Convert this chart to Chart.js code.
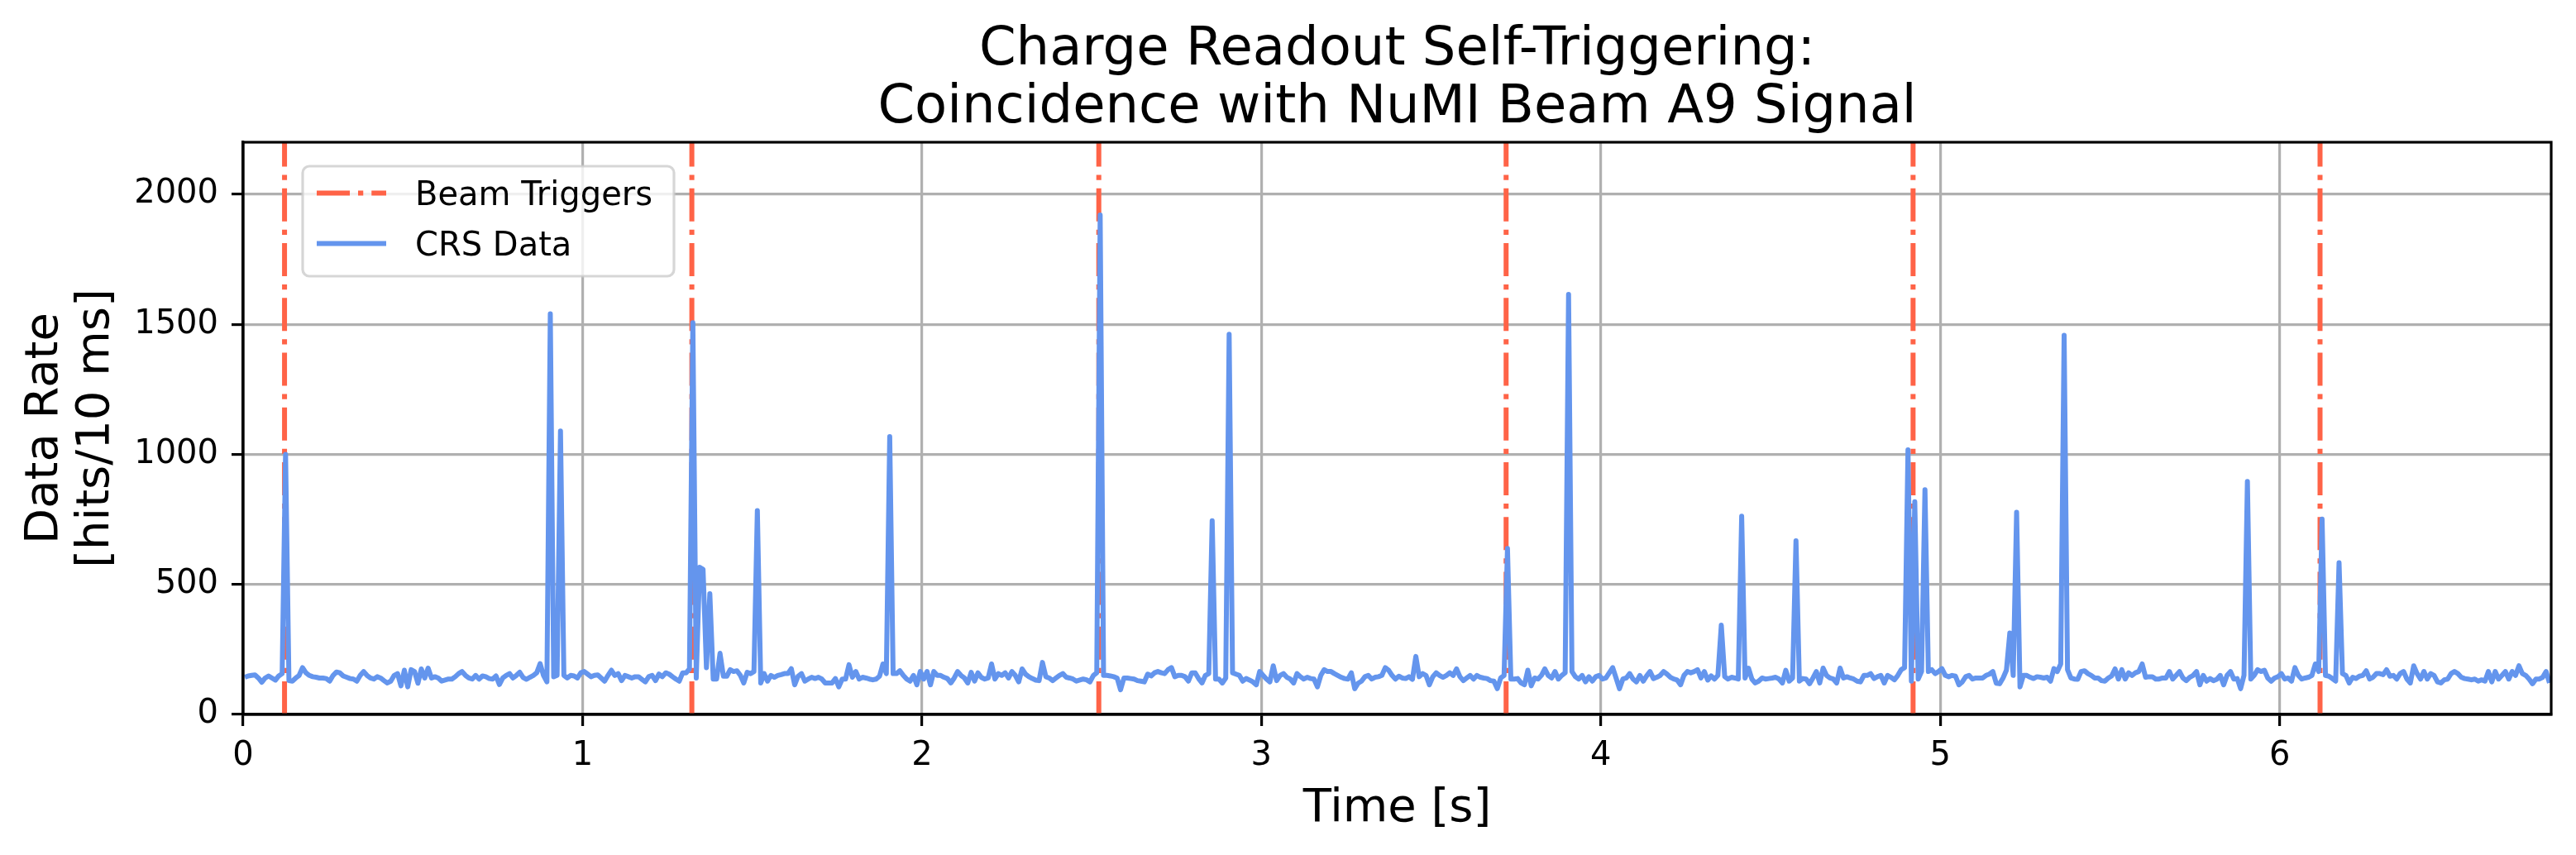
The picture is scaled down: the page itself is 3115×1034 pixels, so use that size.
<!DOCTYPE html>
<html>
<head>
<meta charset="utf-8">
<title>Charge Readout Self-Triggering</title>
<script src="https://cdn.jsdelivr.net/npm/chart.js@4.4.1/dist/chart.umd.min.js"></script>
<style>
    html, body { margin: 0; padding: 0; background: #fff; }
    canvas { display: block; }
</style>
</head>
<body>
<canvas id="rateChart" width="3115" height="1034"></canvas>
<script>
// CRS data rate, hits per 10 ms bin (bin i starts at i*10 ms)
const crsRate = [
    143,148,150,152,140,124,140,148,140,132,148,157,1000,130,128,140,150,180,160,150,   // 0.0 s
    145,143,140,140,138,128,150,163,160,148,143,138,136,128,150,165,150,140,136,145,
    140,130,121,128,150,157,110,170,106,172,165,120,175,140,178,140,145,140,128,132,
    136,136,145,157,165,150,140,136,150,136,148,145,138,136,148,115,140,150,157,140,
    150,162,142,135,143,150,160,195,150,125,1540,145,150,1090,150,140,150,148,140,160,
    165,155,145,150,152,140,128,150,170,150,157,130,150,145,140,145,145,135,125,145,   // 1.0 s
    150,130,155,145,160,155,145,136,128,160,160,175,1506,140,566,558,180,464,136,136,
    235,147,147,172,165,168,150,121,162,157,165,784,121,157,128,150,143,150,153,157,
    157,176,114,147,157,128,136,143,138,143,136,121,121,121,138,106,136,136,191,143,
    165,136,143,140,136,133,136,147,194,157,1068,157,157,168,150,136,128,150,114,165,
    136,165,114,165,150,150,143,138,121,140,165,150,140,121,162,128,160,142,136,140,   // 2.0 s
    194,136,157,150,160,140,165,150,125,175,155,145,138,132,130,200,145,140,130,140,
    150,157,143,140,136,128,132,136,133,125,150,160,1920,150,150,148,145,140,95,140,
    140,138,136,130,128,125,155,148,160,165,160,157,172,180,145,150,150,145,128,160,
    160,138,121,150,157,745,136,136,121,140,1462,160,155,150,128,138,132,125,114,165,
    150,136,125,187,130,150,157,143,136,121,157,145,136,143,138,136,106,150,172,165,   // 3.0 s
    165,157,150,143,138,136,160,99,120,128,145,150,136,143,145,150,180,170,150,136,
    147,140,138,145,135,223,145,157,150,114,145,160,150,143,150,160,150,175,145,130,
    140,150,136,150,143,140,138,130,128,99,140,150,638,136,136,138,121,114,170,110,
    140,136,150,175,150,140,165,136,150,160,1615,165,145,136,150,125,145,128,145,150,
    136,140,160,180,140,99,136,140,157,136,125,150,128,148,165,138,143,150,165,155,   // 4.0 s
    143,136,132,114,150,165,160,165,172,140,165,132,148,136,150,343,145,136,143,140,
    136,762,140,178,136,121,128,140,136,138,140,143,136,121,170,128,140,668,128,138,
    136,118,140,165,121,178,150,140,136,121,178,140,145,140,136,128,125,150,150,157,
    138,145,150,121,150,143,133,150,172,180,1017,128,818,136,165,864,165,172,157,165,
    176,150,145,150,147,114,125,145,150,136,140,140,140,150,155,165,120,118,140,170,   // 5.0 s
    313,150,777,106,150,150,143,138,145,143,140,143,128,176,165,194,1458,172,140,136,
    135,165,168,157,150,140,140,130,128,140,148,175,136,172,136,160,150,160,165,194,
    143,145,145,136,136,140,140,165,136,150,165,140,130,143,150,165,114,150,128,138,
    130,135,150,114,150,165,136,138,99,150,896,136,150,172,165,170,140,128,140,145,
    157,136,140,128,180,150,136,140,143,150,194,165,751,150,147,138,128,583,157,150,   // 6.0 s
    121,143,138,147,150,168,136,143,157,157,153,172,147,150,136,157,165,136,121,187,
    157,136,165,136,157,150,125,121,133,136,157,165,157,143,138,136,133,136,128,133,
    128,165,125,165,136,150,165,136,165,150,187,157,150,136,118,136,136,143,165,121
];
const binWidth = 0.01; // s

// NuMI beam trigger times [s]
const beamTriggers = [0.122, 1.322, 2.521, 3.721, 4.920, 6.119];

const xTicks = [0, 1, 2, 3, 4, 5, 6];
const yTicks = [0, 500, 1000, 1500, 2000];

const titleLines = ['Charge Readout Self-Triggering:', 'Coincidence with NuMI Beam A9 Signal'];

const FONT = 'DejaVu Sans';
Chart.defaults.font.family = FONT;
Chart.defaults.color = '#000';

// points sit at bin centres
const crsPoints = crsRate.map((v, i) => ({ x: (i + 0.5) * binWidth, y: v }));

// one vertical segment per trigger, null breaks the line between them
const triggerPoints = [];
beamTriggers.forEach(t => {
    triggerPoints.push({ x: t, y: 0 }, { x: t, y: 2200 }, { x: t, y: null });
});

const framePlugin = {
    id: 'frame',
    afterDraw(chart) {
        const { ctx, chartArea: a } = chart;
        ctx.save();

        // box round the axes
        ctx.strokeStyle = '#000';
        ctx.lineWidth = 3.2;
        ctx.strokeRect(a.left, a.top, a.right - a.left, a.bottom - a.top);

        // legend
        ctx.beginPath();
        ctx.roundRect(366, 201, 449, 133, 8);
        ctx.fillStyle = 'rgba(255,255,255,0.8)';
        ctx.fill();
        ctx.strokeStyle = 'rgba(204,204,204,0.8)';
        ctx.lineWidth = 3.2;
        ctx.stroke();

        chart.data.datasets.forEach((ds, k) => {
            const y = 233.5 + k * 61;
            const solid = !ds.borderDash;
            ctx.beginPath();
            ctx.setLineDash(ds.borderDash || []);
            ctx.lineCap = solid ? 'square' : 'butt';
            ctx.strokeStyle = ds.borderColor;
            ctx.lineWidth = ds.borderWidth;
            ctx.moveTo(solid ? 386 : 383, y);
            ctx.lineTo(solid ? 464 : 467, y);
            ctx.stroke();
            ctx.setLineDash([]);

            ctx.fillStyle = '#000';
            ctx.font = `40px "${FONT}"`;
            ctx.textAlign = 'left';
            ctx.textBaseline = 'alphabetic';
            ctx.fillText(ds.label, 502, y + 14.6);
        });

        // title
        ctx.fillStyle = '#000';
        ctx.font = `64px "${FONT}"`;
        ctx.textAlign = 'center';
        ctx.textBaseline = 'alphabetic';
        const cx = (a.left + a.right) / 2;
        titleLines.forEach((line, k) => ctx.fillText(line, cx, 78 + k * 70));

        ctx.restore();
    }
};

const ctx = document.getElementById('rateChart');
new Chart(ctx, {
    type: 'line',
    data: {
        datasets: [
            {
                label: 'Beam Triggers',
                data: triggerPoints,
                borderColor: '#ff6347',
                borderWidth: 6,
                borderDash: [40, 10, 6.25, 10],
                pointRadius: 0,
                spanGaps: false,
                order: 1
            },
            {
                label: 'CRS Data',
                data: crsPoints,
                borderColor: '#6495ed',
                borderWidth: 6,
                borderJoinStyle: 'round',
                pointRadius: 0,
                tension: 0,
                order: 0
            }
        ]
    },
    options: {
        responsive: false,
        animation: false,
        devicePixelRatio: 1,
        events: [],
        layout: {
            padding: { left: 0, right: 30, top: 172, bottom: 0 }
        },
        plugins: {
            legend: { display: false },
            title: { display: false },
            tooltip: { enabled: false }
        },
        scales: {
            x: {
                type: 'linear',
                min: 0,
                max: 6.8,
                afterBuildTicks: scale => { scale.ticks = xTicks.map(v => ({ value: v })); },
                afterFit: scale => { scale.height = 170; },
                grid: {
                    color: '#b0b0b0',
                    lineWidth: 3.2,
                    tickLength: 14,
                    tickColor: '#000',
                    tickWidth: 3.2
                },
                border: { display: true, color: '#000', width: 3.2 },
                ticks: {
                    font: { size: 40 },
                    padding: 13,
                    maxRotation: 0,
                    autoSkip: false,
                    callback: v => String(v)
                },
                title: {
                    display: true,
                    text: 'Time [s]',
                    font: { size: 56, lineHeight: 1.2 },
                    padding: { top: 0, bottom: 22 }
                }
            },
            y: {
                min: 0,
                max: 2200,
                afterBuildTicks: scale => { scale.ticks = yTicks.map(v => ({ value: v })); },
                afterFit: scale => { scale.width = 294; },
                grid: {
                    color: '#b0b0b0',
                    lineWidth: 3.2,
                    tickLength: 14,
                    tickColor: '#000',
                    tickWidth: 3.2
                },
                border: { display: true, color: '#000', width: 3.2 },
                ticks: {
                    font: { size: 40 },
                    padding: 16,
                    autoSkip: false,
                    callback: v => String(v)
                },
                title: {
                    display: true,
                    text: ['Data Rate', '[hits/10 ms]'],
                    font: { size: 56, lineHeight: 1.1 },
                    padding: { top: 24, bottom: 0 }
                }
            }
        }
    },
    plugins: [framePlugin]
});
</script>
</body>
</html>
